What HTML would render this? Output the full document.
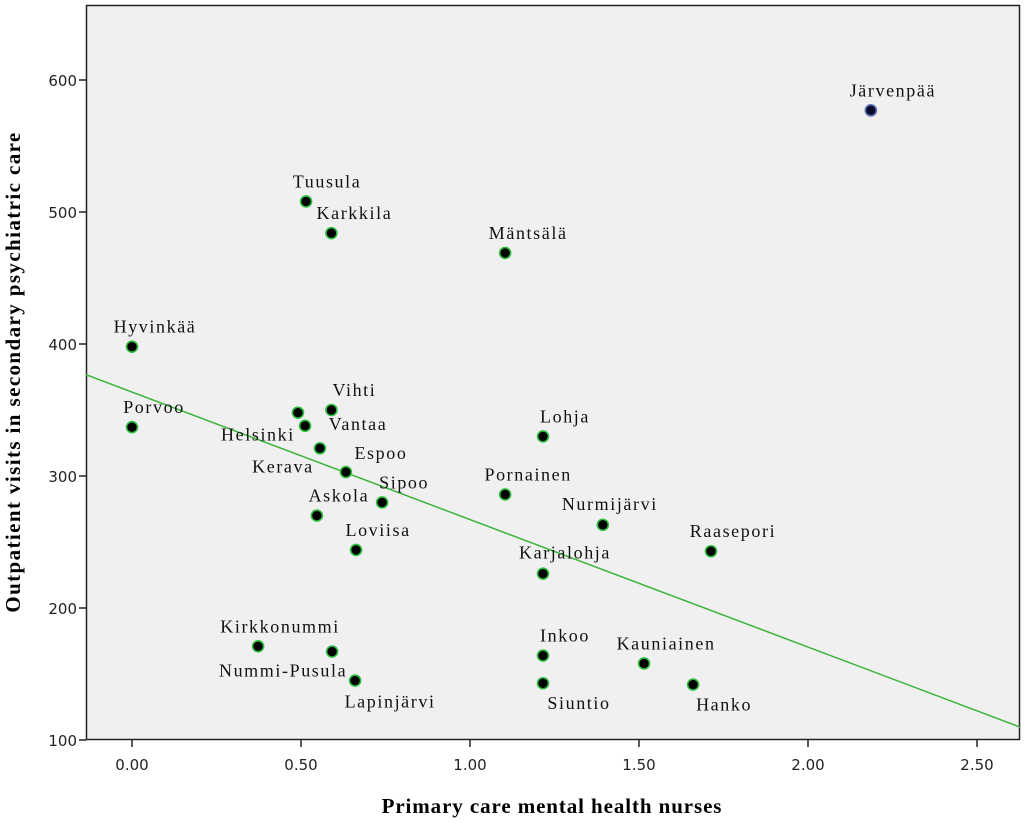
<!DOCTYPE html>
<html><head><meta charset="utf-8"><style>
html,body{margin:0;padding:0;background:#fff;}
svg{display:block;}
</style></head><body>
<svg id="chart" width="1024" height="823" xmlns="http://www.w3.org/2000/svg">
<rect x="86.5" y="5.5" width="933" height="734" fill="#f0f0f0" stroke="#222" stroke-width="1.5"/>
<g id="ticks"></g>
<line id="fit" stroke="#3cb43c" stroke-width="1.5"/>
<g id="pts"></g>
<text x="552" y="813" text-anchor="middle" font-family="Liberation Serif, serif" font-weight="bold" font-size="21" letter-spacing="0.9">Primary care mental health nurses</text>
<text transform="translate(20,372) rotate(-90)" text-anchor="middle" font-family="Liberation Serif, serif" font-weight="bold" font-size="21" letter-spacing="1.4">Outpatient visits in secondary psychiatric care</text>
</svg>
<script>
const names=["Järvenpää","Tuusula","Karkkila","Mäntsälä","Hyvinkää","Porvoo","Vihti","Helsinki","Vantaa","Kerava","Espoo","Sipoo","Askola","Loviisa","Lohja","Pornainen","Nurmijärvi","Raasepori","Karjalohja","Kirkkonummi","Nummi-Pusula","Lapinjärvi","Inkoo","Siuntio","Kauniainen","Hanko"];
const nurses=[2.186,0.515,0.59,1.104,0,0,0.59,0.491,0.512,0.556,0.633,0.74,0.547,0.663,1.216,1.104,1.393,1.713,1.216,0.373,0.592,0.66,1.216,1.216,1.515,1.66];
const visits=[577,508,484,469,398,337,350,348,338,321,303,280,270,244,330,286,263,243,226,171,167,145,164,143,158,142];
const xTicks=[0,0.5,1,1.5,2,2.5];
const yTicks=[100,200,300,400,500,600];
const fitIntercept=363.6, fitSlope=-96.6;
const labelOffsets=[[22,-14],[21,-14],[23,-14],[23,-14],[23,-14],[22,-14],[23,-14],[-40,28],[53,4],[-37,24],[35,-13],[22,-14],[22,-14],[22,-14],[22,-14],[23,-14],[7,-15],[22,-14],[22,-15],[22,-14],[-49,25],[35,27],[22,-14],[36,26],[22,-14],[31,26]];
const X=v=>132+v*338, Y=v=>740-(v-100)*1.32;
const NS="http://www.w3.org/2000/svg";
function mk(tag,attrs,parent){const e=document.createElementNS(NS,tag);for(const k in attrs)e.setAttribute(k,attrs[k]);parent.appendChild(e);return e;}
const tg=document.getElementById('ticks');
xTicks.forEach(t=>{
 const l=mk('line',{x1:X(t),x2:X(t),y1:740,y2:747,stroke:'#222','stroke-width':1.5},tg);
 
 
 const tx=mk('text',{x:X(t),y:770,'text-anchor':'middle','font-family':'DejaVu Sans, sans-serif','font-size':15,fill:'#222'},tg);
 tx.textContent=t.toFixed(2);
 
 
});
yTicks.forEach(t=>{
 const l=mk('line',{x1:79,x2:86,y1:Y(t),y2:Y(t),stroke:'#222','stroke-width':1.5},tg);
 
 
 const tx=mk('text',{x:77,y:Y(t)+6,'text-anchor':'end','font-family':'DejaVu Sans, sans-serif','font-size':15,fill:'#222'},tg);
 tx.textContent=t;
 
 
});
const x0=-0.136,x1=2.627;
const f=document.getElementById('fit');
f.setAttribute('x1',X(x0));f.setAttribute('y1',Y(fitIntercept+fitSlope*x0));
f.setAttribute('x2',X(x1));f.setAttribute('y2',Y(fitIntercept+fitSlope*x1));
const pg=document.getElementById('pts');
names.forEach((n,i)=>{
 const c=mk('circle',{cx:X(nurses[i]),cy:Y(visits[i]),r:5.5,fill:i===0?'#0a0a30':'#000',stroke:i===0?'#5a6fb0':'#2fbf3f','stroke-width':1.6},pg);
 
 
 const t=mk('text',{x:X(nurses[i])+labelOffsets[i][0],y:Y(visits[i])+labelOffsets[i][1],'text-anchor':'middle','font-family':'Liberation Serif, serif','font-size':18,'letter-spacing':1.6,fill:'#111'},pg);
 t.textContent=n;
 
 
});
</script>
</body></html>
